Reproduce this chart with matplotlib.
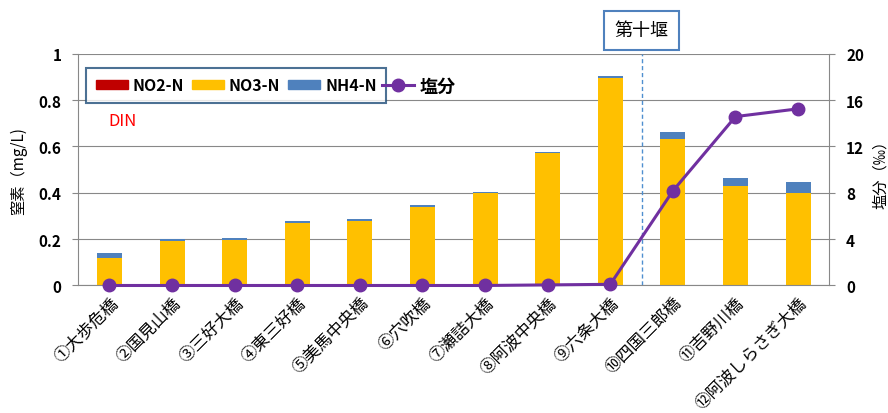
import numpy as np
import matplotlib
matplotlib.use('Agg')
from matplotlib import pyplot as plt
from matplotlib.patches import Patch
from matplotlib.lines import Line2D

plt.rcParams['font.family'] = ['Noto Sans CJK JP', 'DejaVu Sans']

#======================================================
#! Data
stations = ['①大歩危橋', '②国見山橋', '③三好大橋', '④東三好橋', '⑤美馬中央橋', '⑥穴吹橋',
            '⑦瀬詰大橋', '⑧阿波中央橋', '⑨六条大橋', '⑩四国三郎橋', '⑪吉野川橋', '⑫阿波しらさぎ大橋']
no2 = [0, 0, 0, 0, 0, 0, 0, 0, 0, 0.003, 0.003, 0.003]
no3 = [0.120, 0.190, 0.195, 0.268, 0.280, 0.340, 0.400, 0.570, 0.897, 0.627, 0.424, 0.398]
nh4 = [0.018, 0.010, 0.008, 0.009, 0.007, 0.007, 0.005, 0.007, 0.006, 0.033, 0.037, 0.045]
salt = [0, 0, 0, 0, 0, 0, 0, 0.05, 0.1, 8.16, 14.57, 15.24]

c_no2 = '#C00000'
c_no3 = '#FFC000'
c_nh4 = '#4F81BD'
c_salt = '#7030A0'

#======================================================
#! Plot
fig = plt.figure(figsize=(8.88, 4.14), dpi=100)
ax = fig.add_axes([0.088, 0.308, 0.846, 0.56])
x = np.arange(len(stations))
w = 0.4
b2 = np.array(no2)
b3 = b2 + np.array(no3)
ax.bar(x, no2, w, color=c_no2, zorder=2)
ax.bar(x, no3, w, bottom=b2, color=c_no3, zorder=2)
ax.bar(x, nh4, w, bottom=b3, color=c_nh4, zorder=2)
ax.set_ylim(0, 1)
ax.set_xlim(-0.5, len(stations) - 0.5)
ax.set_yticks(np.arange(0, 1.01, 0.2))
ax.set_yticklabels(['0', '0.2', '0.4', '0.6', '0.8', '1'], fontweight='bold', fontsize=11)
ax.yaxis.grid(True, color='#888888', linewidth=0.8, zorder=0)
ax.set_axisbelow(True)
for s in ['top', 'right']:
    ax.spines[s].set_visible(False)
ax.spines['left'].set_color('#888888')
ax.spines['bottom'].set_color('#888888')
ax.tick_params(axis='y', length=4, color='#888888', pad=8)
ax.tick_params(axis='x', length=0, pad=6)
ax.set_xticks(x)
ax.set_xticklabels(stations, rotation=45, ha='right', rotation_mode='anchor', fontsize=12)
ax.set_ylabel('窒素（mg/L)', fontsize=11, labelpad=8)

ax2 = ax.twinx()
ax2.plot(x, salt, color=c_salt, linewidth=2.2, marker='o', markersize=9, zorder=5, clip_on=False)
ax2.set_ylim(0, 20)
ax2.set_yticks(np.arange(0, 21, 4))
ax2.set_yticklabels([str(v) for v in range(0, 21, 4)], fontweight='bold', fontsize=11)
for s in ['top', 'left', 'bottom']:
    ax2.spines[s].set_visible(False)
ax2.spines['right'].set_color('#888888')
ax2.tick_params(axis='y', length=4, color='#888888', pad=8)
ax2.set_ylabel('塩分（‰）', fontsize=11, labelpad=6)

# 第十堰
ax.axvline(8.5, color='#4F8FD0', linestyle=(0, (3, 2)), linewidth=1, zorder=3)
ax.text(8.5, 1.10, '第十堰', ha='center', va='center', fontsize=13,
        bbox=dict(boxstyle='square,pad=0.6', fc='white', ec='#4F81BD', lw=1.5),
        clip_on=False)

# legend
handles = [Patch(color=c_no2, label='NO2-N'), Patch(color=c_no3, label='NO3-N'),
           Patch(color=c_nh4, label='NH4-N')]
leg = ax.legend(handles=handles, loc='upper left', bbox_to_anchor=(0.011, 0.939), ncol=3,
                prop={'weight': 'bold', 'size': 11.5}, frameon=True, fancybox=False,
                handlelength=2.0, handleheight=0.45, columnspacing=0.5, handletextpad=0.3,
                borderpad=0.6, borderaxespad=0)
leg.get_frame().set_edgecolor('#1F4E79')
leg.get_frame().set_linewidth(1.5)
ax.add_artist(leg)
leg2 = ax.legend(handles=[Line2D([], [], color=c_salt, marker='o', markersize=9, linewidth=2.2,
                                 label='塩分')],
                 loc='center left', bbox_to_anchor=(0.404, 0.861), frameon=False,
                 prop={'weight': 'bold', 'size': 13}, handlelength=1.8, handletextpad=0.3,
                 borderpad=0, borderaxespad=0)
ax.text(0.04, 0.71, 'DIN', transform=ax.transAxes, color='red', fontsize=12, va='center')

fig.savefig('out.png', dpi=100)
